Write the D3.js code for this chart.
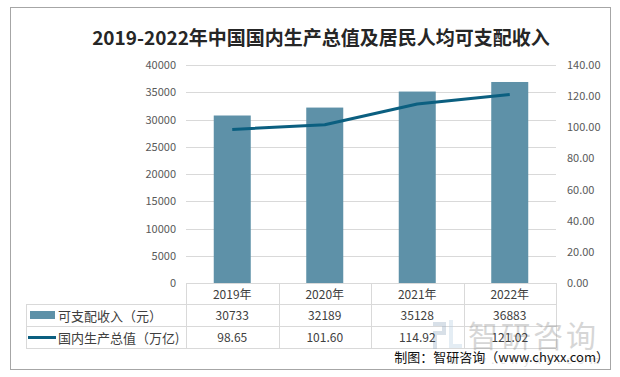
<!DOCTYPE html>
<html>
<head>
<meta charset="utf-8">
<script src="https://cdn.jsdelivr.net/npm/d3@7"></script>
<style>
  body { margin: 0; background: #fff; }
  svg { display: block; }
</style>
</head>
<body>
<div id="chart"></div>
<script>
const years = ['2019年', '2020年', '2021年', '2022年'];
const income = [30733, 32189, 35128, 36883];
const gdp = [98.65, 101.60, 114.92, 121.02];
const incomeLabels = ['30733', '32189', '35128', '36883'];
const gdpLabels = ['98.65', '101.60', '114.92', '121.02'];
const leftTicks = [0, 5000, 10000, 15000, 20000, 25000, 30000, 35000, 40000];
const rightTicks = [0, 20, 40, 60, 80, 100, 120, 140];

const W = 620, H = 377;
const font = "'Microsoft YaHei', 'Noto Sans CJK SC', 'Noto Sans', sans-serif";
const barColor = '#5e91a8';
const lineColor = '#0b5f80';

const svg = d3.select('#chart').append('svg').attr('width', W).attr('height', H);

// outer frame
svg.append('rect').attr('x', 10.5).attr('y', 7.5).attr('width', 600).attr('height', 362)
  .attr('fill', '#fff').attr('stroke', '#a6a6a6').attr('stroke-width', 1);

// title
svg.append('text').attr('x', 321).attr('y', 45).attr('text-anchor', 'middle')
  .attr('font-family', font).attr('font-size', 19).attr('font-weight', 700).attr('fill', '#262626')
  .text('2019-2022年中国国内生产总值及居民人均可支配收入');

const plot = { left: 186, right: 556, top: 65, bottom: 283 };

const x = d3.scaleBand().domain(years).range([plot.left, plot.right]);
const yL = d3.scaleLinear().domain([0, 40000]).range([plot.bottom, plot.top]);
const yR = d3.scaleLinear().domain([0, 140]).range([plot.bottom, plot.top]);

// gridlines
svg.append('g').selectAll('line').data(leftTicks.slice(1)).join('line')
  .attr('x1', plot.left).attr('x2', plot.right)
  .attr('y1', d => Math.round(yL(d)) + 0.5).attr('y2', d => Math.round(yL(d)) + 0.5)
  .attr('stroke', '#d9d9d9');

// left axis
const axL = svg.append('g').attr('transform', `translate(${plot.left - 10},0)`)
  .call(d3.axisLeft(yL).tickValues(leftTicks).tickSize(0).tickPadding(0).tickFormat(d3.format('d')));
axL.select('.domain').remove();
axL.selectAll('text').attr('font-family', font).attr('font-size', 11).attr('fill', '#595959');

// right axis
const axR = svg.append('g').attr('transform', `translate(${plot.right + 11},0)`)
  .call(d3.axisRight(yR).tickValues(rightTicks).tickSize(0).tickPadding(0).tickFormat(d3.format('.2f')));
axR.select('.domain').remove();
axR.selectAll('text').attr('font-family', font).attr('font-size', 11).attr('fill', '#595959');

// bars
const bw = 37;
svg.append('g').selectAll('rect').data(income).join('rect')
  .attr('x', (d, i) => x(years[i]) + x.bandwidth() / 2 - bw / 2)
  .attr('y', d => yL(d))
  .attr('width', bw)
  .attr('height', d => plot.bottom - yL(d))
  .attr('fill', barColor);

// line
const line = d3.line()
  .x((d, i) => x(years[i]) + x.bandwidth() / 2)
  .y(d => yR(d));
svg.append('path').datum(gdp).attr('d', line)
  .attr('fill', 'none').attr('stroke', lineColor).attr('stroke-width', 3)
  .attr('stroke-linejoin', 'round');

// data table
const rows = [plot.bottom, 304, 326, 348];
const tableLeft = 26;
const tg = svg.append('g').attr('stroke', '#d9d9d9').attr('stroke-width', 1);
tg.append('line').attr('x1', plot.left).attr('x2', plot.right).attr('y1', rows[0] + 0.5).attr('y2', rows[0] + 0.5);
rows.slice(1).forEach(r => {
  tg.append('line').attr('x1', tableLeft).attr('x2', plot.right).attr('y1', r + 0.5).attr('y2', r + 0.5);
});
years.forEach((yr, i) => {
  const xx = Math.round(x(yr)) + 0.5;
  tg.append('line').attr('x1', xx).attr('x2', xx).attr('y1', rows[0]).attr('y2', rows[3]);
});
tg.append('line').attr('x1', plot.right + 0.5).attr('x2', plot.right + 0.5).attr('y1', rows[0]).attr('y2', rows[3]);
tg.append('line').attr('x1', tableLeft + 0.5).attr('x2', tableLeft + 0.5).attr('y1', rows[1]).attr('y2', rows[3]);

const cellText = (txt, cx, cy, anchor) => svg.append('text')
  .attr('x', cx).attr('y', cy).attr('text-anchor', anchor || 'middle').attr('dy', '0.35em')
  .attr('font-family', font).attr('font-size', 12).attr('fill', '#404040').text(txt);

// watermark (drawn under table text)
const wm = svg.append('g').attr('opacity', 0.4);
wm.append('rect').attr('x', 433).attr('y', 322).attr('width', 13).attr('height', 4).attr('fill', '#9fb3c8');
wm.append('rect').attr('x', 442).attr('y', 322).attr('width', 4).attr('height', 13).attr('fill', '#9fb3c8');
wm.append('rect').attr('x', 433).attr('y', 331).attr('width', 13).attr('height', 4).attr('fill', '#9fb3c8');
wm.append('rect').attr('x', 433).attr('y', 331).attr('width', 4).attr('height', 18).attr('fill', '#9fb3c8');
wm.append('rect').attr('x', 449).attr('y', 320).attr('width', 4).attr('height', 28).attr('fill', '#bcd3e6');
wm.append('rect').attr('x', 449).attr('y', 344).attr('width', 13).attr('height', 4).attr('fill', '#bcd3e6');
wm.append('text').attr('x', 468).attr('y', 347).attr('font-family', font).attr('font-size', 30)
  .attr('fill', '#9a9a9a').attr('textLength', 128).text('智研咨询');
wm.append('text').attr('x', 448).attr('y', 364).attr('font-family', font).attr('font-size', 11)
  .attr('fill', '#b0b0b0').attr('textLength', 152).attr('lengthAdjust', 'spacing').text('www.chyxx.com');

years.forEach((yr, i) => {
  const cx = x(yr) + x.bandwidth() / 2;
  cellText(yr, cx, (rows[0] + rows[1]) / 2 + 1);
  cellText(incomeLabels[i], cx, (rows[1] + rows[2]) / 2 + 1);
  cellText(gdpLabels[i], cx, (rows[2] + rows[3]) / 2 + 1);
});

// legend keys in row headers
svg.append('rect').attr('x', 30).attr('y', 311).attr('width', 25).attr('height', 8).attr('fill', barColor);
cellText('可支配收入（元）', 58, (rows[1] + rows[2]) / 2 + 1, 'start').attr('font-size', 13);
svg.append('line').attr('x1', 28).attr('x2', 56).attr('y1', 337.5).attr('y2', 337.5)
  .attr('stroke', lineColor).attr('stroke-width', 3);
cellText('国内生产总值（万亿)', 58, (rows[2] + rows[3]) / 2 + 1, 'start').attr('font-size', 13);

// source
svg.append('text').attr('x', 609).attr('y', 362).attr('text-anchor', 'end')
  .attr('font-family', font).attr('font-size', 13).attr('fill', '#111').text('制图：智研咨询（www.chyxx.com）');
</script>
</body>
</html>
